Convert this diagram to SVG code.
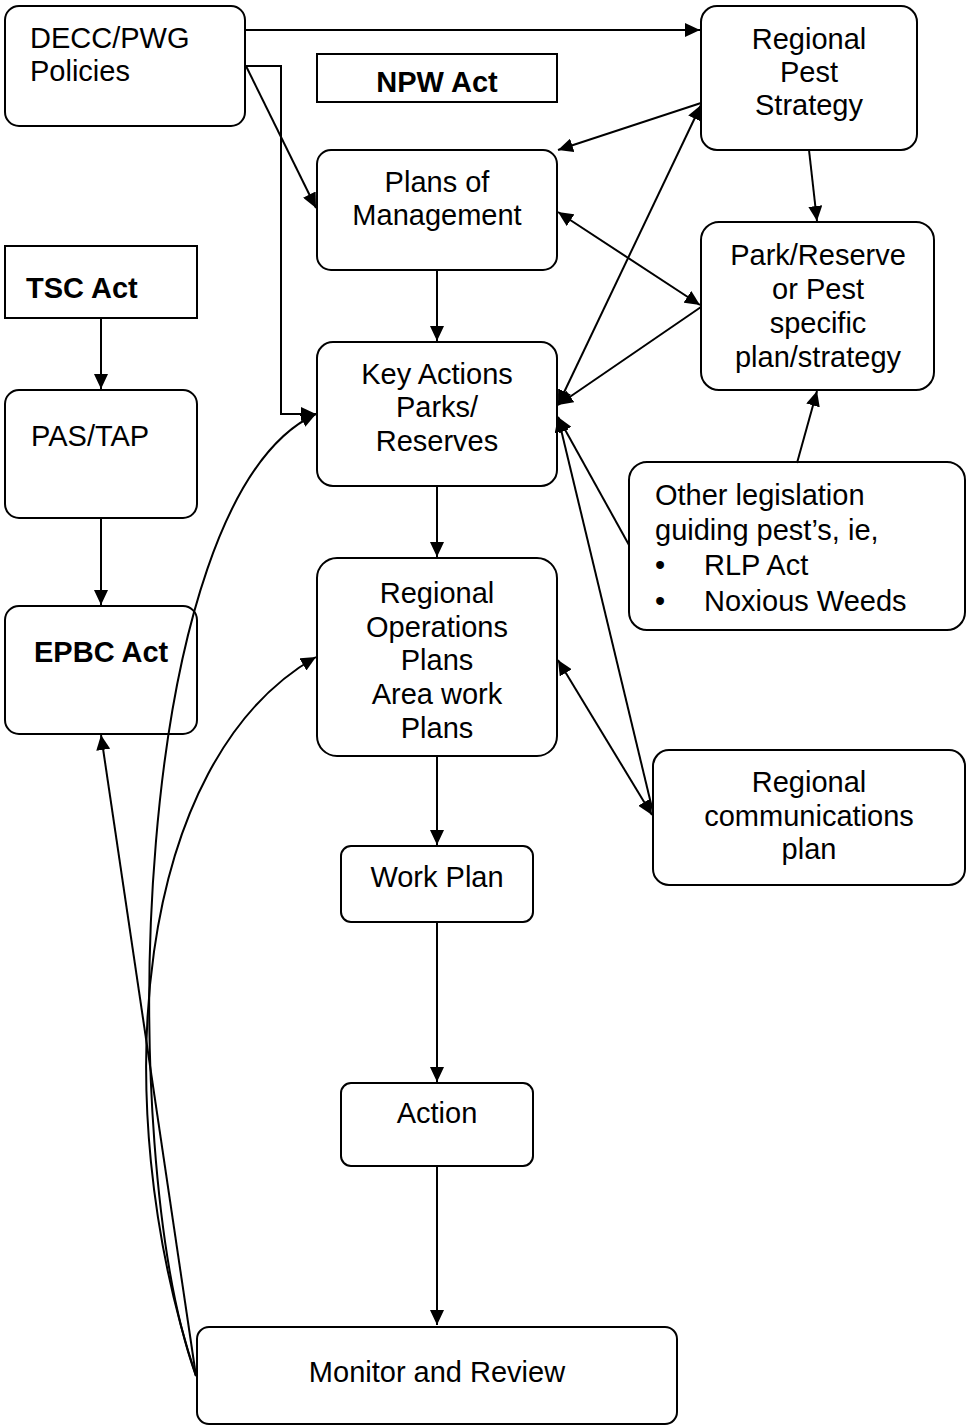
<svg xmlns="http://www.w3.org/2000/svg" width="966" height="1426" viewBox="0 0 966 1426">
<style>
.box{fill:none;stroke:#000;stroke-width:2}
.t{font-family:"Liberation Sans",Arial,sans-serif;font-size:29px;fill:#000}
.b{font-weight:bold}
.c{text-anchor:middle}
.ln{fill:none;stroke:#000;stroke-width:2}
</style>
<defs>
<marker id="ah" markerUnits="userSpaceOnUse" markerWidth="16" markerHeight="14" refX="15" refY="7" orient="auto-start-reverse">
<path d="M0,0 L15,7 L0,14 z" fill="#000"/>
</marker>
</defs>
<rect width="966" height="1426" fill="#fff"/>

<g id="connectors">
<line class="ln" x1="245" y1="30" x2="700" y2="30" marker-end="url(#ah)"/>
<polyline class="ln" points="245,66 281,66 281,414 316,414" marker-end="url(#ah)"/>
<line class="ln" x1="246" y1="66" x2="316" y2="208" marker-end="url(#ah)"/>
<line class="ln" x1="101" y1="318" x2="101" y2="389" marker-end="url(#ah)"/>
<line class="ln" x1="101" y1="518" x2="101" y2="605" marker-end="url(#ah)"/>
<line class="ln" x1="701" y1="103" x2="558" y2="150" marker-end="url(#ah)"/>
<line class="ln" x1="558" y1="212" x2="700" y2="305" marker-start="url(#ah)" marker-end="url(#ah)"/>
<line class="ln" x1="701" y1="307" x2="558" y2="405" marker-end="url(#ah)"/>
<line class="ln" x1="558" y1="405" x2="701" y2="105" marker-start="url(#ah)" marker-end="url(#ah)"/>
<line class="ln" x1="809" y1="150" x2="817" y2="221" marker-end="url(#ah)"/>
<line class="ln" x1="797" y1="463" x2="817" y2="391" marker-end="url(#ah)"/>
<line class="ln" x1="629" y1="545" x2="558" y2="417" marker-end="url(#ah)"/>
<line class="ln" x1="653" y1="812" x2="558" y2="417" marker-end="url(#ah)"/>
<line class="ln" x1="558" y1="660" x2="652" y2="815" marker-start="url(#ah)" marker-end="url(#ah)"/>
<line class="ln" x1="437" y1="270" x2="437" y2="341" marker-end="url(#ah)"/>
<line class="ln" x1="437" y1="486" x2="437" y2="557" marker-end="url(#ah)"/>
<line class="ln" x1="437" y1="756" x2="437" y2="845" marker-end="url(#ah)"/>
<line class="ln" x1="437" y1="922" x2="437" y2="1082" marker-end="url(#ah)"/>
<line class="ln" x1="437" y1="1166" x2="437" y2="1325" marker-end="url(#ah)"/>
<line class="ln" x1="196" y1="1376" x2="101" y2="735" marker-end="url(#ah)"/>
<path class="ln" d="M196,1376 C115,1150 130,500 316,414" marker-end="url(#ah)"/>
<path class="ln" d="M196,1376 C105,1100 135,760 316,657" marker-end="url(#ah)"/>
</g>

<g id="decc">
<rect class="box" x="5" y="6" width="240" height="120" rx="14"/>
<text class="t" x="30" y="48">DECC/PWG</text>
<text class="t" x="30" y="81">Policies</text>
</g>
<g id="npw">
<rect class="box" x="317" y="54" width="240" height="48"/>
<text class="t b c" x="437" y="92">NPW Act</text>
</g>
<g id="rps">
<rect class="box" x="701" y="6" width="216" height="144" rx="16"/>
<text class="t c" x="809" y="49">Regional</text>
<text class="t c" x="809" y="82">Pest</text>
<text class="t c" x="809" y="115">Strategy</text>
</g>
<g id="pom">
<rect class="box" x="317" y="150" width="240" height="120" rx="14"/>
<text class="t c" x="437" y="192">Plans of</text>
<text class="t c" x="437" y="225">Management</text>
</g>
<g id="tsc">
<rect class="box" x="5" y="246" width="192" height="72"/>
<text class="t b" x="26" y="298">TSC Act</text>
</g>
<g id="prs">
<rect class="box" x="701" y="222" width="233" height="168" rx="18"/>
<text class="t c" x="818" y="265">Park/Reserve</text>
<text class="t c" x="818" y="299">or Pest</text>
<text class="t c" x="818" y="333">specific</text>
<text class="t c" x="818" y="367">plan/strategy</text>
</g>
<g id="ka">
<rect class="box" x="317" y="342" width="240" height="144" rx="16"/>
<text class="t c" x="437" y="384">Key Actions</text>
<text class="t c" x="437" y="417">Parks/</text>
<text class="t c" x="437" y="451">Reserves</text>
</g>
<g id="pas">
<rect class="box" x="5" y="390" width="192" height="128" rx="14"/>
<text class="t" x="31" y="446">PAS/TAP</text>
</g>
<g id="other">
<rect class="box" x="629" y="462" width="336" height="168" rx="18"/>
<text class="t" x="655" y="505">Other legislation</text>
<text class="t" x="655" y="540">guiding pest’s, ie,</text>
<text class="t" x="655" y="575">•</text>
<text class="t" x="704" y="575">RLP Act</text>
<text class="t" x="655" y="611">•</text>
<text class="t" x="704" y="611">Noxious Weeds</text>
</g>
<g id="rop">
<rect class="box" x="317" y="558" width="240" height="198" rx="20"/>
<text class="t c" x="437" y="603">Regional</text>
<text class="t c" x="437" y="637">Operations</text>
<text class="t c" x="437" y="670">Plans</text>
<text class="t c" x="437" y="704">Area work</text>
<text class="t c" x="437" y="738">Plans</text>
</g>
<g id="epbc">
<rect class="box" x="5" y="606" width="192" height="128" rx="14"/>
<text class="t b" x="34" y="662">EPBC Act</text>
</g>
<g id="comms">
<rect class="box" x="653" y="750" width="312" height="135" rx="16"/>
<text class="t c" x="809" y="792">Regional</text>
<text class="t c" x="809" y="826">communications</text>
<text class="t c" x="809" y="859">plan</text>
</g>
<g id="work">
<rect class="box" x="341" y="846" width="192" height="76" rx="10"/>
<text class="t c" x="437" y="887">Work Plan</text>
</g>
<g id="action">
<rect class="box" x="341" y="1083" width="192" height="83" rx="10"/>
<text class="t c" x="437" y="1123">Action</text>
</g>
<g id="monitor">
<rect class="box" x="197" y="1327" width="480" height="97" rx="12"/>
<text class="t c" x="437" y="1382">Monitor and Review</text>
</g>
</svg>
